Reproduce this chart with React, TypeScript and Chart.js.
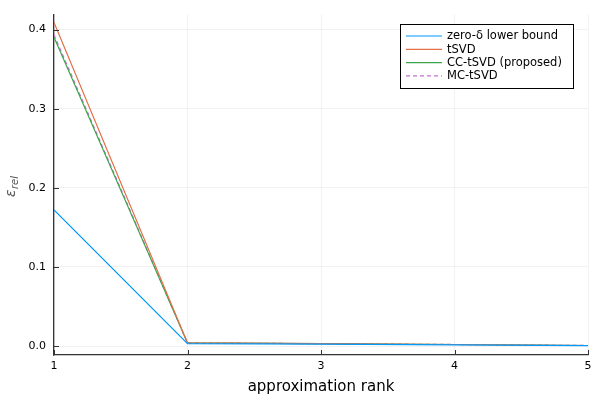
import React, { useEffect, useRef } from "react";
import { Chart, registerables } from "chart.js";

Chart.register(...registerables);

const ranks = [1, 2, 3, 4, 5];
const lowerBound = [0.172, 0.003, 0.0025, 0.0015, 0.0006];
const tsvd = [0.409, 0.004, 0.003, 0.002, 0.0007];
const ccTsvd = [0.3905, 0.004, 0.003, 0.002, 0.0007];
const mcTsvd = [0.3935, 0.004, 0.003, 0.002, 0.0007];
const seriesNames = ["zero-δ lower bound", "tSVD", "CC-tSVD (proposed)", "MC-tSVD"];
const seriesColors = ["#009AFA", "#E36F47", "#3EA44E", "#C371D2"];
const yTicks = [0, 0.1, 0.2, 0.3, 0.4];
const xTicks = [1, 2, 3, 4, 5];
const yLabelMain = "ε";
const yLabelSub = "rel";

const FONT = "'DejaVu Sans', sans-serif";

const innerTicks = {
  id: "innerTicks",
  afterDatasetsDraw(chart: any) {
    const { ctx, chartArea, scales } = chart;
    ctx.save();
    ctx.strokeStyle = "#333";
    ctx.lineWidth = 1;
    ctx.beginPath();
    for (const v of yTicks) {
      const y = Math.round(scales.y.getPixelForValue(v)) + 0.5;
      ctx.moveTo(chartArea.left, y);
      ctx.lineTo(chartArea.left + 5, y);
    }
    for (const v of xTicks) {
      const x = Math.round(scales.x.getPixelForValue(v)) + 0.5;
      ctx.moveTo(x, chartArea.bottom);
      ctx.lineTo(x, chartArea.bottom - 5);
    }
    ctx.stroke();
    ctx.restore();
  },
};

const yLabel = {
  id: "yLabel",
  afterDraw(chart: any) {
    const { ctx, chartArea } = chart;
    const cy = (chartArea.top + chartArea.bottom) / 2;
    ctx.save();
    ctx.translate(15, cy + 2);
    ctx.rotate(-Math.PI / 2);
    ctx.fillStyle = "#555";
    ctx.textBaseline = "alphabetic";
    ctx.font = `italic 14px ${FONT}`;
    const w = ctx.measureText(yLabelMain).width;
    ctx.font = `italic 10px ${FONT}`;
    const ws = ctx.measureText(yLabelSub).width;
    const x0 = -(w + ws) / 2;
    ctx.font = `italic 14px ${FONT}`;
    ctx.fillText(yLabelMain, x0, 0);
    ctx.font = `italic 10px ${FONT}`;
    ctx.fillText(yLabelSub, x0 + w + 0.5, 3);
    ctx.restore();
  },
};

const boxLegend = {
  id: "boxLegend",
  afterDraw(chart: any) {
    const { ctx } = chart;
    const x0 = 400;
    const y0 = 24;
    const w = 173;
    const h = 64;
    ctx.save();
    ctx.fillStyle = "#fff";
    ctx.fillRect(x0, y0, w, h);
    ctx.strokeStyle = "#000";
    ctx.lineWidth = 1;
    ctx.strokeRect(x0 + 0.5, y0 + 0.5, w, h);
    ctx.font = `11.5px ${FONT}`;
    ctx.textBaseline = "middle";
    chart.data.datasets.forEach((ds: any, i: number) => {
      const y = y0 + 12 + i * 13.3;
      ctx.strokeStyle = ds.borderColor;
      ctx.lineWidth = 1.2;
      ctx.setLineDash(ds.borderDash || []);
      ctx.beginPath();
      ctx.moveTo(x0 + 6, y);
      ctx.lineTo(x0 + 42, y);
      ctx.stroke();
      ctx.setLineDash([]);
      ctx.fillStyle = "#000";
      ctx.fillText(ds.label, x0 + 47, y + 0.5);
    });
    ctx.restore();
  },
};

export default function App() {
  const ref = useRef<HTMLCanvasElement>(null);
  useEffect(() => {
    document.body.style.margin = "0";
    const data = [lowerBound, tsvd, ccTsvd, mcTsvd];
    const chart = new Chart(ref.current!, {
      type: "line",
      data: {
        datasets: data.map((d, i) => ({
          label: seriesNames[i],
          data: ranks.map((r, j) => ({ x: r, y: d[j] })),
          borderColor: seriesColors[i],
          backgroundColor: seriesColors[i],
          borderWidth: 1.2,
          borderDash: i === 3 ? [4, 3] : [],
          pointRadius: 0,
          tension: 0,
          fill: false,
        })),
      },
      options: {
        animation: false,
        responsive: false,
        layout: { padding: { left: 0, right: 12, top: 12, bottom: 0 } },
        plugins: { legend: { display: false }, tooltip: { enabled: false } },
        scales: {
          x: {
            type: "linear",
            min: 1,
            max: 5,
            afterBuildTicks: (s: any) => {
              s.ticks = xTicks.map((v) => ({ value: v }));
            },
            afterFit: (s: any) => {
              s.height = 45;
            },
            ticks: {
              font: { family: FONT, size: 11 },
              color: "#000",
              padding: 5,
              callback: (v: any) => String(v),
            },
            grid: { color: "rgba(0,0,0,0.1)", lineWidth: 0.5, drawTicks: false },
            border: { color: "#333", width: 1.3 },
            title: {
              display: true,
              text: "approximation rank",
              font: { family: FONT, size: 15 },
              color: "#000",
              padding: { top: 2 },
            },
          },
          y: {
            type: "linear",
            min: -0.0113,
            max: 0.419,
            afterBuildTicks: (s: any) => {
              s.ticks = yTicks.map((v) => ({ value: v }));
            },
            afterFit: (s: any) => {
              s.width = 54;
            },
            ticks: {
              font: { family: FONT, size: 11 },
              color: "#000",
              padding: 8,
              callback: (v: any) => Number(v).toFixed(1),
            },
            grid: { color: "rgba(0,0,0,0.1)", lineWidth: 0.5, drawTicks: false },
            border: { color: "#333", width: 1.3 },
          },
        },
      },
      plugins: [innerTicks, yLabel, boxLegend],
    });
    return () => chart.destroy();
  }, []);
  return (
    <div style={{ position: "fixed", left: 0, top: 0, width: 600, height: 400, background: "#fff" }}>
      <canvas ref={ref} width={600} height={400} style={{ width: 600, height: 400 }} />
    </div>
  );
}
